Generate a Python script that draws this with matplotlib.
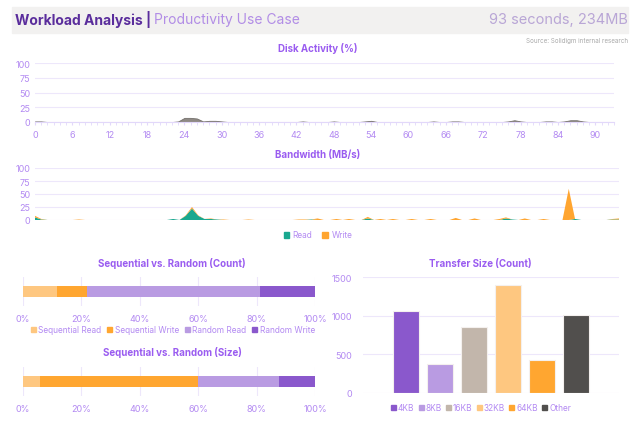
import numpy as np
import matplotlib.pyplot as plt
from matplotlib.patches import Patch, Rectangle

plt.rcParams['font.family'] = ['Inter', 'DejaVu Sans']

# ---- data ----
seconds = np.arange(94)

disk_pct = [1, 1, 0, 0, 0, 0, 0, 0, 0, 0, 0, 0, 0, 0, 0, 0, 0, 0, 0, 0,
            0, 0, 0, 1, 7, 7, 6, 1, 2, 2, 1, 0, 0, 0, 0, 0, 0, 0, 0, 0,
            0, 0, 0, 1, 0, 0, 0, 0, 1, 0, 0, 0, 0, 1, 2, 0, 0, 0, 0, 0,
            0, 0, 0, 0, 1, 0, 0, 1, 1, 0, 0, 0, 0, 0, 0, 0, 1, 3, 1, 0,
            0, 0, 1, 1, 0, 1, 3, 3, 1, 0, 0, 0, 0, 0]

read_mbs = [5, 1, 0, 0, 0, 0, 0, 0, 0, 0, 0, 0, 0, 0, 0, 0, 0, 0, 0, 0,
            0, 0, 2, 0, 8, 22, 8, 2, 2, 1, 0, 0, 0, 0, 0, 0, 0, 0, 0, 0,
            0, 0, 0, 0, 1, 0, 0, 0, 0, 0, 0, 0, 0, 3, 0, 0, 0, 0, 0, 0,
            0, 0, 0, 0, 0, 0, 0, 0, 0, 0, 0, 0, 0, 0, 0, 3, 1, 0, 0, 0,
            0, 0, 0, 0, 0, 0, 2, 0, 0, 0, 0, 0, 1, 1]

write_mbs = [3, 1, 0, 0, 0, 0, 0, 1, 0, 0, 0, 0, 0, 0, 0, 0, 0, 0, 0, 0,
             0, 0, 0, 0, 1, 3, 1, 0, 1, 0, 1, 0, 0, 0, 1, 0, 0, 0, 0, 0,
             0, 0, 1, 1, 0, 3, 0, 0, 2, 0, 2, 0, 0, 3, 0, 2, 0, 2, 0, 0,
             2, 0, 0, 2, 0, 0, 0, 4, 0, 0, 3, 0, 0, 0, 2, 2, 0, 0, 3, 0,
             0, 2, 0, 0, 0, 60, 0, 0, 0, 0, 0, 0, 1, 2]

seq_labels = ['Sequential Read', 'Sequential Write', 'Random Read', 'Random Write']
seq_count = [11.7, 10.2, 59.3, 18.8]
seq_size = [5.9, 54.0, 27.8, 12.3]

size_labels = ['4KB', '8KB', '16KB', '32KB', '64KB', 'Other']
size_count = [1060, 380, 850, 1395, 430, 1010]

# ---- styling ----
tick_col = '#b38af2'
title_col = '#9a5cf0'
grid_col = '#ede7fb'
seq_colors = ['#fec780', '#ffa630', '#b99be2', '#8a58cc']
size_colors = ['#8a58cc', '#b99be2', '#c2b6ab', '#fec780', '#ffa630', '#514f4d']


def clean(ax):
    for s in ax.spines.values():
        s.set_visible(False)
    ax.tick_params(colors=tick_col, labelsize=6.5, length=0)


fig = plt.figure(figsize=(6.36, 4.31), dpi=100)

# header band
fig.patches.append(Rectangle((12 / 636, 1 - 34 / 431), 616 / 636, 26 / 431,
                             transform=fig.transFigure, color='#f2f1f0', zorder=0))
t1 = fig.text(15 / 636, 1 - 20 / 431, 'Workload Analysis | ', fontsize=10, fontweight='bold',
              color='#5a2d9c', va='center')
fig.canvas.draw()
bb = t1.get_window_extent()
fig.text(bb.x1 / 636, 1 - 20 / 431, 'Productivity Use Case', fontsize=10, color='#b28de6',
         va='center')
fig.text(628 / 636, 1 - 20 / 431, '93 seconds, 234MB', fontsize=10.5, color='#b9a6d6',
         va='center', ha='right')
fig.text(628 / 636, 1 - 41 / 431, 'Source: Solidigm internal research', fontsize=4.5,
         color='#a9a9a9', va='center', ha='right')

# disk activity
fig.text(0.5, 1 - 49 / 431, 'Disk Activity (%)', fontsize=7, fontweight='bold',
         color=title_col, ha='center', va='center')
ax1 = fig.add_axes([35 / 636, 1 - 123 / 431, 579 / 636, 59 / 431])
ax1.fill_between(seconds, disk_pct, color='#8f8a85', lw=0.6, edgecolor='#74706c')
ax1.set_xlim(0, 93)
ax1.set_ylim(0, 100)
ax1.set_yticks([0, 25, 50, 75, 100])
ax1.set_xticks(range(0, 91, 6))
ax1.set_xticks(range(0, 94), minor=True)
ax1.grid(axis='y', color=grid_col, lw=0.8)
ax1.set_axisbelow(True)
clean(ax1)
ax1.spines['bottom'].set_visible(True)
ax1.spines['bottom'].set_color('#e2d8fa')
ax1.tick_params(axis='x', which='both', length=2, color='#e2d8fa', pad=4)

# bandwidth
fig.text(0.5, 1 - 155 / 431, 'Bandwidth (MB/s)', fontsize=7, fontweight='bold',
         color=title_col, ha='center', va='center')
ax2 = fig.add_axes([35 / 636, 1 - 221 / 431, 584 / 636, 52 / 431])
ax2.stackplot(seconds, read_mbs, write_mbs, colors=['#19a88f', '#ffa530'], lw=0)
ax2.set_xlim(0, 93)
ax2.set_ylim(0, 100)
ax2.set_yticks([0, 25, 50, 75, 100])
ax2.set_xticks([])
ax2.grid(axis='y', color=grid_col, lw=0.8)
ax2.set_axisbelow(True)
clean(ax2)
fig.legend(handles=[Patch(color='#19a88f', label='Read'), Patch(color='#ffa530', label='Write')],
           loc='center', bbox_to_anchor=(0.5, 1 - 236 / 431), ncol=2, frameon=False,
           fontsize=6, labelcolor=tick_col, handlelength=0.7, handleheight=0.7,
           handletextpad=0.4, columnspacing=1.2)


def seq_bar(ax, vals):
    left = 0
    for v, c in zip(vals, seq_colors):
        ax.barh(0, v, left=left, height=0.4, color=c)
        left += v
    ax.set_xlim(0, 100)
    ax.set_ylim(-0.5, 0.5)
    ax.set_yticks([])
    ax.set_xticks(range(0, 101, 20))
    ax.set_xticklabels([f'{v}%' for v in range(0, 101, 20)])
    ax.grid(axis='x', color=grid_col, lw=0.8)
    ax.set_axisbelow(True)
    clean(ax)
    ax.tick_params(axis='x', pad=6)


# sequential vs random (count)
fig.text(172 / 636, 1 - 264 / 431, 'Sequential vs. Random (Count)', fontsize=7,
         fontweight='bold', color=title_col, ha='center', va='center')
ax3 = fig.add_axes([23 / 636, 1 - 307 / 431, 292 / 636, 29 / 431])
seq_bar(ax3, seq_count)
fig.legend(handles=[Patch(color=c, label=l) for c, l in zip(seq_colors, seq_labels)],
           loc='center', bbox_to_anchor=(173 / 636, 1 - 331 / 431), ncol=4, frameon=False,
           fontsize=6, labelcolor=tick_col, handlelength=0.6, handleheight=0.6,
           handletextpad=0.3, columnspacing=0.7)

# sequential vs random (size)
fig.text(172 / 636, 1 - 353 / 431, 'Sequential vs. Random (Size)', fontsize=7,
         fontweight='bold', color=title_col, ha='center', va='center')
ax4 = fig.add_axes([23 / 636, 1 - 397 / 431, 292 / 636, 29 / 431])
seq_bar(ax4, seq_size)

# transfer size
fig.text(480 / 636, 1 - 264 / 431, 'Transfer Size (Count)', fontsize=7,
         fontweight='bold', color=title_col, ha='center', va='center')
ax5 = fig.add_axes([363 / 636, 1 - 394 / 431, 256 / 636, 116 / 431])
xpos = np.arange(len(size_labels))
ax5.bar(xpos, size_count, width=0.77, color=size_colors, edgecolor='#f4f0ee', lw=0.8)
ax5.set_xlim(-1.26, 6.26)
ax5.set_ylim(0, 1500)
ax5.set_yticks([0, 500, 1000, 1500])
ax5.set_xticks([])
ax5.grid(axis='y', color=grid_col, lw=0.8)
ax5.set_axisbelow(True)
clean(ax5)
ax5.tick_params(axis='y', pad=8)
fig.legend(handles=[Patch(color=c, label=l) for c, l in zip(size_colors, size_labels)],
           loc='center', bbox_to_anchor=(481 / 636, 1 - 409 / 431), ncol=6, frameon=False,
           fontsize=6, labelcolor=tick_col, handlelength=0.6, handleheight=0.6,
           handletextpad=0.25, columnspacing=0.5)

fig.savefig('out.png', dpi=100)
